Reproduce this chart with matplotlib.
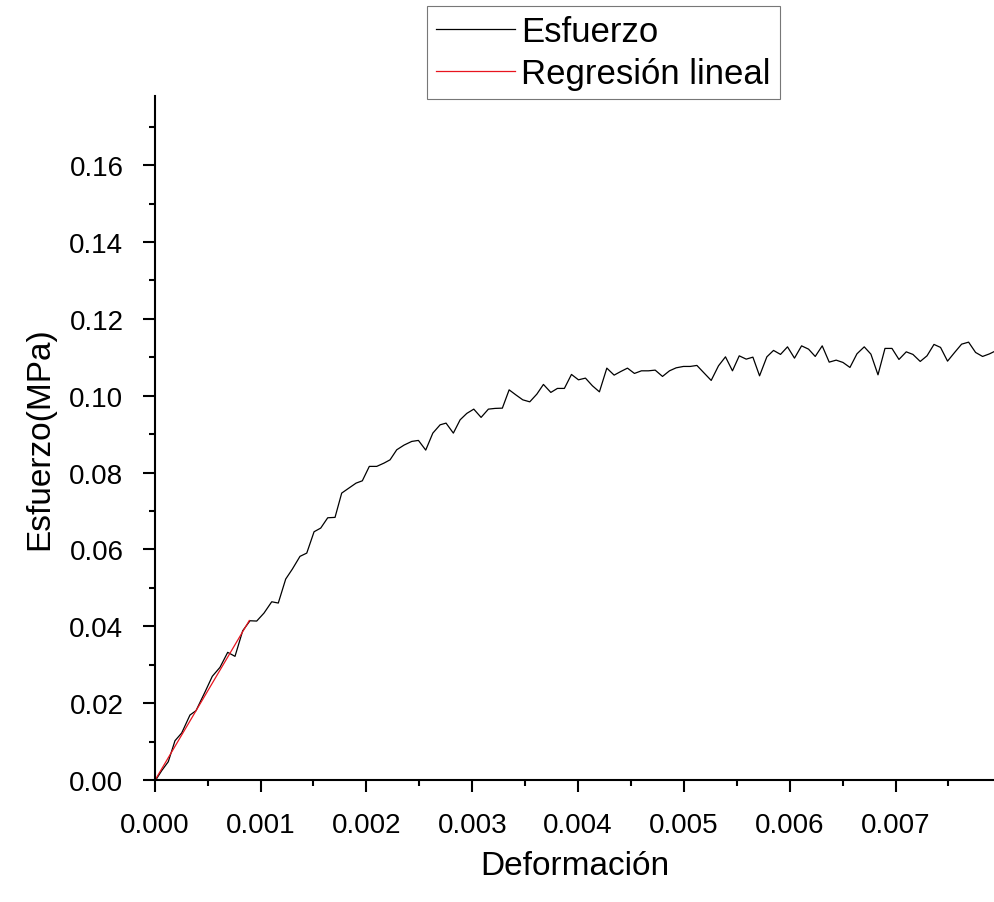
import matplotlib
matplotlib.use("Agg")
import matplotlib.pyplot as plt
from matplotlib.ticker import MultipleLocator, FormatStrFormatter

plt.rcParams['font.family'] = ['Liberation Sans', 'DejaVu Sans']

# Deformación (strain) and Esfuerzo (MPa)
deformacion = [
    0.00001, 0.0000662, 0.0001285, 0.0001919, 0.0002552, 0.0003336, 0.0003904, 0.0004754,
    0.0005444, 0.0006172, 0.000690, 0.000759, 0.0008318, 0.0009008, 0.000964, 0.001033,
    0.001106, 0.001168, 0.001238, 0.001301, 0.001373, 0.001437, 0.001506, 0.001569,
    0.001635, 0.001704, 0.001767, 0.001839, 0.001903, 0.001962, 0.002028, 0.002098,
    0.002167, 0.002224, 0.002287, 0.002356, 0.002429, 0.002492, 0.002561, 0.002628,
    0.002697, 0.002753, 0.002822, 0.002886, 0.002949, 0.003015, 0.003084, 0.003153,
    0.003216, 0.003285, 0.003349, 0.003412, 0.003478, 0.003544, 0.003611, 0.003673,
    0.003743, 0.003805, 0.003871, 0.003938, 0.004004, 0.004070, 0.004136, 0.004202,
    0.004272, 0.004341, 0.004405, 0.004467, 0.004533, 0.004599, 0.004665, 0.004729,
    0.004798, 0.004864, 0.004927, 0.004996, 0.005060, 0.005123, 0.005192, 0.005258,
    0.005327, 0.005393, 0.005459, 0.005523, 0.005589, 0.005652, 0.005715, 0.005784,
    0.005847, 0.005913, 0.005979, 0.006045, 0.006112, 0.006178, 0.006241, 0.006307,
    0.006373, 0.006439, 0.006503, 0.006569, 0.006635, 0.006704, 0.006767, 0.006834,
    0.006900, 0.006966, 0.007032, 0.007101, 0.007164, 0.007233, 0.007297, 0.007363,
    0.007425, 0.007491, 0.007558, 0.007624, 0.007690, 0.007756, 0.007822, 0.007888,
    0.007955,
]
esfuerzo = [
    0.0, 0.00242, 0.00476, 0.01022, 0.01223, 0.01691, 0.01803, 0.02289,
    0.02698, 0.02932, 0.03322, 0.03218, 0.03884, 0.04144, 0.04136, 0.04344,
    0.04638, 0.04605, 0.05229, 0.05489, 0.05820, 0.05905, 0.06460, 0.06556,
    0.06824, 0.06834, 0.07466, 0.07604, 0.07726, 0.07786, 0.08161, 0.08161,
    0.08247, 0.08332, 0.08593, 0.08715, 0.08811, 0.08837, 0.08585, 0.09027,
    0.09243, 0.09287, 0.09027, 0.09373, 0.09540, 0.09651, 0.09436, 0.09651,
    0.09670, 0.09677, 0.10153, 0.10023, 0.09893, 0.09841, 0.10042, 0.10294,
    0.10086, 0.10190, 0.10190, 0.10554, 0.10414, 0.10458, 0.10258, 0.10101,
    0.10718, 0.10536, 0.10632, 0.10718, 0.10580, 0.10648, 0.10648, 0.10666,
    0.10502, 0.10648, 0.10726, 0.10762, 0.10762, 0.10788, 0.10588, 0.10398,
    0.10778, 0.11012, 0.10648, 0.11038, 0.10952, 0.11004, 0.10518, 0.11012,
    0.11179, 0.11075, 0.11272, 0.10978, 0.11298, 0.11212, 0.11022, 0.11298,
    0.10874, 0.10926, 0.10866, 0.10736, 0.11090, 0.11272, 0.11082, 0.10544,
    0.11231, 0.11231, 0.10944, 0.11142, 0.11075, 0.10892, 0.11038, 0.11335,
    0.11257, 0.10900, 0.11126, 0.11342, 0.11394, 0.11126, 0.11022, 0.11090,
    0.11180,
]

# linear fit over the elastic part (end points)
regresion_x = [0.0, 0.000894]
regresion_y = [-0.0002, 0.0415]

fig = plt.figure(figsize=(9.94, 9.03), dpi=100)
ax = fig.add_axes([0.1556, 0.1351, 0.8444, 0.7575])

ax.plot(deformacion, esfuerzo, color='black', lw=0.9, label='Esfuerzo')
ax.plot(regresion_x, regresion_y, color='#e8141e', lw=0.9, label='Regresión lineal')

ax.set_xlim(0, 0.00793)
ax.set_ylim(0, 0.178)

ax.spines['top'].set_visible(False)
ax.spines['right'].set_visible(False)
ax.spines['left'].set_linewidth(1.5)
ax.spines['bottom'].set_linewidth(1.5)

ax.xaxis.set_major_locator(MultipleLocator(0.001))
ax.xaxis.set_minor_locator(MultipleLocator(0.0005))
ax.yaxis.set_major_locator(MultipleLocator(0.02))
ax.yaxis.set_minor_locator(MultipleLocator(0.01))
ax.xaxis.set_major_formatter(FormatStrFormatter('%.3f'))
ax.yaxis.set_major_formatter(FormatStrFormatter('%.2f'))

ax.tick_params(which='major', direction='out', length=8.5, width=1.5, labelsize=20)
ax.tick_params(which='minor', direction='out', length=4.5, width=1.5)
ax.tick_params(axis='x', which='major', pad=14.5)
ax.tick_params(axis='y', which='major', pad=14)

ax.set_xlabel('Deformación', fontsize=24, labelpad=9)
ax.set_ylabel('Esfuerzo(MPa)', fontsize=24, labelpad=10)

leg = ax.legend(loc='upper left', bbox_to_anchor=(0.4296, 0.9922),
                bbox_transform=fig.transFigure, fontsize=25, frameon=True,
                fancybox=False, handlelength=2.25, handletextpad=0.2,
                labelspacing=0.24, borderpad=0.27, borderaxespad=0)
leg.get_frame().set_edgecolor('#555555')
leg.get_frame().set_linewidth(0.8)

fig.savefig('out.png', dpi=100)
